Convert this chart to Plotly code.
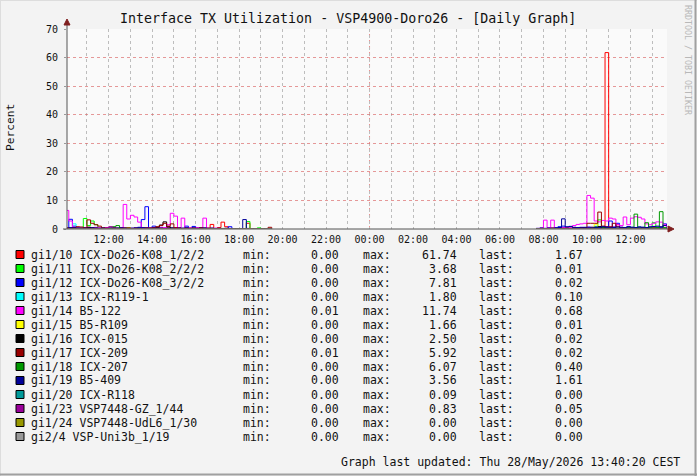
import plotly.graph_objects as go
import pandas as pd

# ---------------- data ----------------
# day-1 block: 10:00 .. 19:30 (10-minute steps), day-2 block: 07:40 .. 13:40
T1 = pd.date_range("2026-05-27 10:00", "2026-05-27 19:30", freq="10min")
T2 = pd.date_range("2026-05-28 07:40", "2026-05-28 13:40", freq="10min")

names = ["gi1/10 ICX-Do26-K08_1/2/2", "gi1/11 ICX-Do26-K08_2/2/2", "gi1/12 ICX-Do26-K08_3/2/2",
         "gi1/13 ICX-R119-1", "gi1/14 B5-122", "gi1/15 B5-R109", "gi1/16 ICX-015", "gi1/17 ICX-209",
         "gi1/18 ICX-207", "gi1/19 B5-409", "gi1/20 ICX-R118", "gi1/23 VSP7448-GZ_1/44",
         "gi1/24 VSP7448-UdL6_1/30", "gi2/4 VSP-Uni3b_1/19"]
colors = ["#FF0000", "#00FF00", "#0000FF", "#00FFFF", "#FF00FF", "#FFFF00", "#000000", "#990000",
          "#009900", "#000099", "#009999", "#990099", "#999900", "#999999"]
stat_min = [0.00, 0.00, 0.00, 0.00, 0.01, 0.00, 0.00, 0.01, 0.00, 0.00, 0.00, 0.00, 0.00, 0.00]
stat_max = [61.74, 3.68, 7.81, 1.80, 11.74, 1.66, 2.50, 5.92, 6.07, 3.56, 0.09, 0.83, 0.00, 0.00]
stat_last = [1.67, 0.01, 0.02, 0.10, 0.68, 0.01, 0.02, 0.02, 0.40, 1.61, 0.00, 0.05, 0.00, 0.00]

red1 = [0.3,0.2,0.4,0.3,0.2,0.5,0.6,0.4,0.3,0.2,
        0.2,0.3,0.2,0.1,0.2,0.3,0.2,0.1,0.2,0.3,
        0.2,0.2,0.3,0.4,0.2,0.3,0.5,0.4,0.6,0.3,
        0.2,0.2,0.1,0.2,0.3,0.2,0.1,0.2,0.2,0.1,
        1.6,0.1,0.5,2.4,0.8,0.2,0.1,0.0,0.1,0.0,
        2.0,0.1,0.0,0.0,0.0,0.0,0.0,0.0]
red2 = [0.1,0.2,0.1,0.2,0.3,0.2,0.1,0.4,0.3,0.2,
        0.3,0.2,0.4,0.3,0.5,0.6,0.8,0.5,0.4,61.74,
        0.8,0.6,1.5,0.5,0.4,0.3,0.5,0.4,0.3,0.5,
        0.4,0.3,0.5,0.4,0.6,1.2,1.67]

lime1 = [0.2,0.1,0.3,0.2,0.4,3.68,1.2,2.8,1.5,0.3,
         0.2,0.1,0.2,0.3,0.5,0.2,0.1,0.2,0.1,0.2,
         0.1,0.2,0.1,0.1,0.2,0.1,0.3,0.2,0.1,0.1,
         0.2,0.1,0.1,0.2,0.1,0.1,0.2,0.1,0.1,0.1,
         0.2,0.1,0.1,0.2,0.1,0.0,0.1,0.0,0.0,0.1,
         2.6,0.1,0.0,0.4,0.0,0.0,0.0,0.0]
lime2 = [0.1,0.0,0.1,0.2,0.1,0.1,0.2,0.1,0.1,0.2,
         0.1,0.2,0.1,0.3,0.4,0.5,0.6,3.2,0.5,0.3,
         0.4,0.3,0.2,0.3,0.2,0.3,0.2,0.3,0.2,0.3,
         0.4,0.3,2.2,0.5,0.3,0.2,0.01]

blue1 = [0.3,3.4,1.0,0.4,0.3,0.2,0.4,0.3,0.2,0.3,
         0.2,0.3,0.4,0.2,0.3,0.5,0.3,0.2,0.3,0.4,
         0.6,3.3,7.81,0.4,1.0,0.3,0.2,0.3,0.2,0.4,
         0.3,0.2,0.3,1.0,0.2,0.9,0.3,0.2,0.3,0.2,
         0.2,0.1,0.2,0.1,0.2,0.8,0.1,0.1,0.0,0.1,
         0.0,0.1,0.0,0.0,0.0,0.0,0.0,0.0]
blue2 = [0.2,0.3,0.2,0.4,0.3,0.5,0.8,1.0,0.6,0.9,
         0.5,0.4,0.6,0.5,0.7,0.6,0.5,0.8,0.9,0.6,
         2.8,0.7,2.0,0.6,0.5,0.8,0.6,0.5,0.7,0.6,
         0.5,0.6,0.8,0.7,0.6,1.8,0.02]

cyan1 = [0.1,0.2,1.8,0.3,0.1,0.1,0.0,0.1,0.1,0.0,
         0.1,0.0,0.1,0.1,0.0,0.1,0.0,0.1,0.1,0.0,
         0.1,0.0,0.1,0.0,0.1,0.0,0.1,0.1,0.0,0.1,
         0.0,0.1,0.0,0.1,0.0,0.1,0.0,0.0,0.1,0.0,
         0.0,0.1,0.0,0.0,0.1,0.0,0.0,0.0,0.0,0.0,
         0.0,0.0,0.0,0.0,0.0,0.0,0.0,0.0]
cyan2 = [0.0,0.1,0.0,0.1,0.1,0.0,0.1,0.1,0.0,0.1,
         0.1,0.0,0.1,0.1,0.2,0.3,1.0,0.4,0.2,0.1,
         0.1,0.2,0.1,0.1,0.2,0.1,0.1,0.2,0.1,0.1,
         0.2,0.1,0.1,0.2,0.1,0.1,0.10]

magenta1 = [6.5,2.8,0.6,0.4,0.3,0.5,0.4,0.3,0.6,0.4,
            0.3,0.5,0.4,0.6,0.3,0.4,8.6,3.5,4.8,4.2,
            2.4,0.5,0.4,0.3,0.5,0.4,0.6,0.5,1.5,5.5,
            4.5,0.4,3.8,0.3,0.4,0.3,0.5,0.4,3.8,0.3,
            0.2,0.3,0.2,0.1,0.2,0.1,0.1,0.01,0.1,0.01,
            0.01,0.1,0.01,0.01,0.01,0.01,0.01,0.01]
magenta2 = [0.2,0.3,3.1,0.4,3.1,0.3,0.4,0.5,0.4,0.6,
            1.2,1.6,1.8,2.0,11.74,10.8,2.8,2.5,3.0,2.8,
            3.8,3.5,1.5,1.2,4.2,1.5,3.8,4.3,4.1,3.5,
            1.8,1.5,2.0,2.5,2.4,1.5,0.68]

yellow1 = [0.0,0.1,0.0,0.1,0.0,0.1,0.0,0.0,0.1,0.0,
           0.1,0.0,0.0,0.1,0.0,0.2,0.1,0.5,0.1,0.0,
           0.1,0.0,0.0,0.1,0.0,0.1,0.0,0.0,0.1,0.0,
           0.0,0.1,0.0,0.0,0.1,0.0,0.0,0.1,0.0,0.0,
           0.0,0.0,0.1,0.0,0.0,0.0,0.0,0.0,0.0,0.0,
           0.0,0.0,0.0,0.0,0.0,0.0,0.0,0.0]
yellow2 = [0.0,0.0,0.1,0.0,0.0,0.1,0.0,0.0,0.1,0.0,
           0.1,0.0,0.1,0.2,0.3,0.5,1.66,0.4,0.2,0.1,
           0.1,0.0,0.1,0.0,0.1,0.0,0.0,0.1,0.0,0.0,
           0.1,0.0,0.0,0.1,0.0,0.0,0.01]

black1 = [0.2,0.3,0.4,0.3,0.2,0.3,0.6,0.4,0.3,0.2,
          0.3,0.2,0.2,0.3,0.2,0.3,0.2,0.3,0.2,0.2,
          0.3,0.2,0.3,0.2,0.4,0.6,1.4,2.5,0.8,0.3,
          0.2,0.3,0.2,0.3,0.2,0.3,0.2,0.4,0.3,0.2,
          0.2,0.1,0.2,0.1,0.2,0.1,0.0,0.1,0.0,0.0,
          0.0,0.0,0.0,0.0,0.0,0.0,0.0,0.0]
black2 = [0.1,0.2,0.1,0.2,0.1,0.2,0.3,0.2,0.1,0.2,
          0.3,0.2,0.3,0.4,0.5,0.4,0.6,0.8,0.4,0.3,
          0.2,0.3,0.2,0.3,0.2,0.3,0.2,0.3,0.2,0.3,
          0.2,0.1,0.2,0.3,0.2,0.1,0.02]

darkred1 = [0.4,0.3,0.5,0.8,0.7,0.4,3.2,2.0,1.5,1.0,
            0.4,0.3,0.2,0.3,0.2,0.3,0.4,0.3,0.2,0.3,
            0.2,0.3,0.4,0.3,0.5,0.8,1.2,2.0,1.0,1.8,
            0.5,0.3,0.2,0.3,0.2,0.3,0.2,0.3,0.2,0.3,
            0.2,0.1,0.2,0.1,0.2,0.1,0.1,0.01,0.1,0.01,
            0.1,0.01,0.01,0.01,0.01,0.01,0.6,0.01]
darkred2 = [0.1,0.2,0.1,0.2,0.3,0.2,0.1,0.2,0.3,0.2,
            0.3,0.2,0.4,0.3,2.0,2.0,2.0,5.92,1.0,0.8,
            0.6,2.0,0.8,0.5,0.4,0.3,0.4,0.3,0.2,0.3,
            0.2,0.3,0.2,0.3,0.2,0.1,0.02]

green1 = [0.1,0.2,0.1,0.1,0.2,0.1,0.1,0.2,0.1,0.1,
          0.2,0.1,0.3,0.8,1.2,0.2,0.1,0.2,0.1,0.1,
          0.2,0.1,0.1,0.2,0.1,0.1,0.2,0.1,0.1,0.2,
          0.1,0.1,0.2,0.1,0.1,0.2,0.1,0.1,0.1,0.1,
          0.1,0.1,0.1,0.0,0.1,0.0,0.0,0.0,0.0,0.0,
          0.0,0.0,0.0,0.0,0.0,0.0,0.0,0.0]
green2 = [0.1,0.1,0.2,0.1,0.1,0.2,0.1,0.1,0.2,0.1,
          0.1,0.2,0.1,0.2,0.3,0.2,0.3,0.4,0.3,0.2,
          0.3,0.2,0.3,0.2,0.3,0.4,0.5,5.2,0.4,0.3,
          2.2,0.4,0.3,0.5,6.07,0.5,0.40]

navy1 = [0.2,0.5,0.4,0.3,0.2,0.3,0.2,0.4,0.3,0.2,
         0.3,0.2,0.2,0.3,0.2,0.4,0.3,0.2,0.2,0.3,
         0.4,0.5,0.3,0.2,0.3,0.2,0.3,0.2,0.3,0.2,
         0.2,0.3,0.2,0.4,0.2,0.3,0.2,0.2,0.3,0.2,
         0.3,0.2,0.2,0.1,0.2,0.1,0.1,0.0,0.1,3.3,
         0.2,0.1,0.0,0.0,0.0,0.0,0.0,0.0]
navy2 = [0.2,0.3,0.2,0.3,0.2,0.4,0.5,3.56,0.8,0.9,
         0.6,0.5,0.4,0.6,0.5,0.4,0.6,0.5,0.8,0.7,
         0.6,0.5,0.7,0.6,0.5,0.8,0.6,0.5,0.7,0.6,
         0.5,0.8,0.9,1.0,0.8,1.2,1.61]

teal1 = [0.02,0.03,0.05,0.02,0.01,0.03,0.09,0.02,0.01,0.02,
         0.01,0.02,0.03,0.01,0.02,0.01,0.02,0.03,0.01,0.02,
         0.01,0.02,0.01,0.03,0.02,0.01,0.02,0.01,0.02,0.01,
         0.02,0.01,0.02,0.01,0.01,0.02,0.01,0.01,0.02,0.01,
         0.01,0.0,0.01,0.0,0.01,0.0,0.0,0.0,0.0,0.0,
         0.0,0.0,0.0,0.0,0.0,0.0,0.0,0.0]
teal2 = [0.0,0.01,0.0,0.01,0.02,0.01,0.0,0.01,0.02,0.01,
         0.01,0.02,0.01,0.03,0.02,0.04,0.03,0.02,0.01,0.02,
         0.01,0.02,0.01,0.01,0.02,0.01,0.01,0.02,0.01,0.01,
         0.02,0.01,0.01,0.02,0.01,0.01,0.00]

purple1 = [0.1,0.2,0.1,0.3,0.2,0.1,0.2,0.1,0.1,0.2,
           0.1,0.2,0.83,0.3,0.1,0.2,0.1,0.1,0.2,0.1,
           0.1,0.2,0.1,0.1,0.2,0.1,0.1,0.2,0.1,0.1,
           0.2,0.1,0.1,0.2,0.1,0.1,0.1,0.2,0.1,0.1,
           0.1,0.0,0.1,0.0,0.1,0.0,0.0,0.0,0.0,0.0,
           0.0,0.0,0.0,0.0,0.0,0.0,0.0,0.0]
purple2 = [0.0,0.1,0.0,0.1,0.1,0.0,0.1,0.2,0.1,0.1,
           0.2,0.1,0.1,0.2,0.3,0.2,0.1,0.2,0.1,0.1,
           0.2,0.1,0.1,0.2,0.1,0.1,0.2,0.1,0.1,0.2,
           0.1,0.1,0.2,0.1,0.1,0.1,0.05]

olive1 = [0.0,0.0,0.0,0.0,0.0,0.0,0.0,0.0,0.0,0.0,
          0.0,0.0,0.0,0.0,0.0,0.0,0.0,0.0,0.0,0.0,
          0.0,0.0,0.0,0.0,0.0,0.0,0.0,0.0,0.0,0.0,
          0.0,0.0,0.0,0.0,0.0,0.0,0.0,0.0,0.0,0.0,
          0.0,0.0,0.0,0.0,0.0,0.0,0.0,0.0,0.0,0.0,
          0.0,0.0,0.0,0.0,0.0,0.0,0.0,0.0]
olive2 = [0.0,0.0,0.0,0.0,0.0,0.0,0.0,0.0,0.0,0.0,
          0.0,0.0,0.0,0.0,0.0,0.0,0.0,0.0,0.0,0.0,
          0.0,0.0,0.0,0.0,0.0,0.0,0.0,0.0,0.0,0.0,
          0.0,0.0,0.0,0.0,0.0,0.0,0.0]
gray1 = [0.0,0.0,0.0,0.0,0.0,0.0,0.0,0.0,0.0,0.0,
         0.0,0.0,0.0,0.0,0.0,0.0,0.0,0.0,0.0,0.0,
         0.0,0.0,0.0,0.0,0.0,0.0,0.0,0.0,0.0,0.0,
         0.0,0.0,0.0,0.0,0.0,0.0,0.0,0.0,0.0,0.0,
         0.0,0.0,0.0,0.0,0.0,0.0,0.0,0.0,0.0,0.0,
         0.0,0.0,0.0,0.0,0.0,0.0,0.0,0.0]
gray2 = [0.0,0.0,0.0,0.0,0.0,0.0,0.0,0.0,0.0,0.0,
         0.0,0.0,0.0,0.0,0.0,0.0,0.0,0.0,0.0,0.0,
         0.0,0.0,0.0,0.0,0.0,0.0,0.0,0.0,0.0,0.0,
         0.0,0.0,0.0,0.0,0.0,0.0,0.0]

series_day1 = [red1, lime1, blue1, cyan1, magenta1, yellow1, black1, darkred1,
               green1, navy1, teal1, purple1, olive1, gray1]
series_day2 = [red2, lime2, blue2, cyan2, magenta2, yellow2, black2, darkred2,
               green2, navy2, teal2, purple2, olive2, gray2]

TITLE = "Interface TX Utilization - VSP4900-Doro26 - [Daily Graph]"
YLABEL = "Percent"
WATERMARK = "RRDTOOL / TOBI OETIKER"
UPDATED = "Graph last updated: Thu 28/May/2026 13:40:20 CEST"
X_START, X_END = "2026-05-27 10:05:00", "2026-05-28 13:41:00"
MIDNIGHT = "2026-05-28 00:00:00"

# ---------------- layout geometry (pixels) ----------------
W, H = 697, 476
PL, PR, PT, PB = 67, 667, 29, 229
MONO = "DejaVu Sans Mono"


def px(x):
    return (x - PL) / (PR - PL)


def py(y):
    return (PB - y) / (PB - PT)


for s1, s2 in zip(series_day1, series_day2):
    assert len(s1) == len(T1) and len(s2) == len(T2)

fig = go.Figure()
gap_t = T1[-1] + pd.Timedelta(minutes=1)
xs = list(T1) + [gap_t] + list(T2)
for name, col, d1, d2 in zip(names, colors, series_day1, series_day2):
    fig.add_trace(go.Scatter(
        x=xs, y=list(d1) + [None] + list(d2), mode="lines", name=name,
        line=dict(color=col, width=1, shape="hv"), connectgaps=False,
        showlegend=False, hoverinfo="skip"))

grid_gray = "#BDBDBD"
fig.update_layout(
    width=W, height=H,
    margin=dict(l=PL, r=W - PR, t=PT, b=H - PB, pad=0),
    paper_bgcolor="#F3F3F3", plot_bgcolor="#FAFAFA",
    font=dict(family=MONO, color="#111111"),
    xaxis=dict(
        type="date", range=[X_START, X_END], tickformat="%H:%M",
        tick0="2026-05-27 00:00:00", dtick=2 * 3600000,
        showgrid=True, gridcolor=grid_gray, griddash="dot", gridwidth=1,
        minor=dict(dtick=3600000, tick0="2026-05-27 00:00:00", showgrid=True,
                   gridcolor=grid_gray, griddash="dot", gridwidth=1),
        showline=False, zeroline=False, ticks="", ticklabelstandoff=3,
        tickfont=dict(family=MONO, size=10, color="#111111"), fixedrange=True),
    yaxis=dict(
        range=[0, 70], tickvals=[0, 10, 20, 30, 40, 50, 60, 70],
        showgrid=True, gridcolor="rgba(220,110,110,0.7)", griddash="dot", gridwidth=1,
        showline=False, zeroline=False, ticks="outside", ticklen=2, tickcolor="#999999",
        ticklabelstandoff=4,
        tickfont=dict(family=MONO, size=10, color="#111111"), fixedrange=True),
)

shapes = []
# midnight (major) grid line
shapes.append(dict(type="line", xref="x", yref="paper", x0=MIDNIGHT, x1=MIDNIGHT, y0=0, y1=1,
                   line=dict(color="rgba(240,100,100,0.75)", width=1, dash="dot"), layer="below"))
axis_col = "#555555"
# axes with arrows
shapes.append(dict(type="line", xref="paper", yref="paper", x0=px(67), x1=px(67), y0=py(229), y1=py(24),
                   line=dict(color=axis_col, width=1)))
shapes.append(dict(type="line", xref="paper", yref="paper", x0=px(63), x1=px(668), y0=py(229), y1=py(229),
                   line=dict(color=axis_col, width=1)))
arrow_col = "#7F1F1F"
shapes.append(dict(type="path", xref="paper", yref="paper",
                   path=f"M {px(64)} {py(25)} L {px(70)} {py(25)} L {px(67)} {py(19)} Z",
                   fillcolor=arrow_col, line=dict(color=arrow_col, width=1)))
shapes.append(dict(type="path", xref="paper", yref="paper",
                   path=f"M {px(668)} {py(226)} L {px(668)} {py(232)} L {px(674)} {py(229)} Z",
                   fillcolor=arrow_col, line=dict(color=arrow_col, width=1)))
# outer frame
shapes.append(dict(type="line", xref="paper", yref="paper", x0=px(0), x1=px(697), y0=py(0.5), y1=py(0.5),
                   line=dict(color="#DDDDDD", width=1)))
shapes.append(dict(type="line", xref="paper", yref="paper", x0=px(0.5), x1=px(0.5), y0=py(0), y1=py(476),
                   line=dict(color="#DDDDDD", width=1)))
shapes.append(dict(type="line", xref="paper", yref="paper", x0=px(695.5), x1=px(695.5), y0=py(0), y1=py(476),
                   line=dict(color="#A0A0A0", width=2)))
shapes.append(dict(type="line", xref="paper", yref="paper", x0=px(0), x1=px(697), y0=py(474.5), y1=py(474.5),
                   line=dict(color="#A0A0A0", width=2)))

annotations = []


def txt(x, y, s, xanchor="left", size=11.5, color="#111111", angle=0, yanchor="middle"):
    annotations.append(dict(xref="paper", yref="paper", x=px(x), y=py(y), text=s, showarrow=False,
                            xanchor=xanchor, yanchor=yanchor, textangle=angle,
                            font=dict(family=MONO, size=size, color=color), borderpad=0))


txt(348, 19, TITLE, xanchor="center", size=13.3)
txt(10, 128, YLABEL, xanchor="center", size=11.2, angle=-90)
txt(688, 60, WATERMARK, xanchor="center", size=8.3, color="#B8B8B8", angle=90)

for r, (name, col, mn, mx, ls) in enumerate(zip(names, colors, stat_min, stat_max, stat_last)):
    yc = 254.5 + 14 * r
    shapes.append(dict(type="rect", xref="paper", yref="paper", x0=px(16), x1=px(24),
                       y0=py(yc - 4), y1=py(yc + 4), fillcolor=col, line=dict(color="#000000", width=1)))
    txt(30, yc, name)
    txt(242, yc, "min:")
    txt(340, yc, f"{mn:.2f}", xanchor="right")
    txt(362, yc, "max:")
    txt(458, yc, f"{mx:.2f}", xanchor="right")
    txt(478, yc, "last:")
    txt(584, yc, f"{ls:.2f}", xanchor="right")

txt(681, 462, UPDATED, xanchor="right")

fig.update_layout(shapes=shapes, annotations=annotations)
fig.write_html("out.html")
